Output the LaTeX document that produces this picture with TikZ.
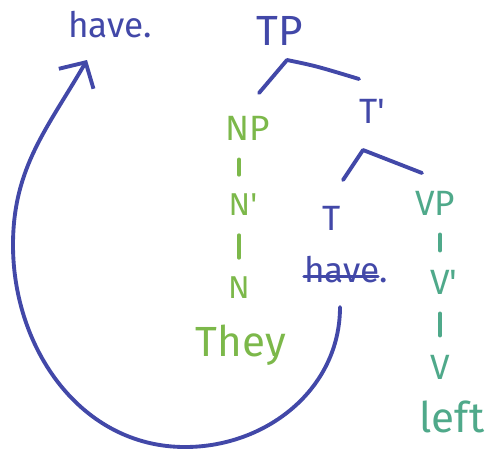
\documentclass[tikz,border=0pt]{standalone}
\usepackage{fontspec}
\setmainfont{Fira Sans}
\usetikzlibrary{arrows.meta}
\definecolor{penblue}{HTML}{4248A8}
\definecolor{pengreen}{HTML}{7CB84A}
\definecolor{penteal}{HTML}{4FA98A}

\begin{document}
\begin{tikzpicture}[x=0.02cm,y=0.02cm,line cap=round,line join=round,
    ink/.style={line width=2.2pt},
    lbl/.style={inner sep=0pt,font=\fontsize{20}{22}\selectfont},
    big/.style={inner sep=0pt,font=\fontsize{24}{26}\selectfont},
    small/.style={inner sep=0pt,font=\fontsize{18}{20}\selectfont},
    bar/.style={ink,shorten <=0.38cm,shorten >=0.38cm}]
  \useasboundingbox (0,0) rectangle (486,-451);
  % moved auxiliary
  \node[lbl,penblue] (have) at (110,-25) {have.};
  % tree, blue part
  \node[big,penblue] (tp) at (280,-31) {TP};
  \node[lbl,penblue] (tbar) at (372,-111) {T\textquotesingle};
  \node[lbl,penblue] (t) at (332,-218) {T};
  \node[lbl,penblue] (struck) at (346,-270) {have.};
  \draw[line width=1.6pt,penblue] ([yshift=0.13cm]struck.base west) -- ([xshift=-0.2cm,yshift=0.13cm]struck.base east);
  \coordinate (tpfork) at (287,-60);
  \coordinate (tpleft) at (259,-93);
  \coordinate (tpright) at (359,-79);
  \draw[ink,penblue] (tpleft) -- (tpfork) .. controls (316,-66) .. (tpright);
  \coordinate (tbfork) at (363,-150);
  \coordinate (tbleft) at (343,-180);
  \coordinate (tbright) at (422,-173);
  \draw[ink,penblue] (tbleft) -- (tbfork) -- (tbright);
  % subject, green
  \node[lbl,pengreen] (np) at (248,-128) {NP};
  \node[small,pengreen] (nbar) at (243,-205) {N\textquotesingle};
  \node[small,pengreen] (n) at (239,-288) {N};
  \node[big,pengreen] (they) at (241,-345) {They};
  \draw[bar,pengreen] (np.south -| n) -- (nbar.north -| n);
  \draw[bar,pengreen] (nbar.south -| n) -- (n.north);
  % predicate, teal
  \node[lbl,penteal] (vp) at (435,-203) {VP};
  \node[lbl,penteal] (vbar) at (444,-282) {V\textquotesingle};
  \node[lbl,penteal] (v) at (440,-367) {V};
  \node[big,penteal] (left) at (452,-417) {left};
  \draw[bar,penteal] (vp.south -| v) -- (vbar.north -| v);
  \draw[bar,penteal] (vbar.south -| v) -- (v.north);
  % movement arrow
  \coordinate (trace) at (340,-307);
  \coordinate (tip) at (87,-60);
  \draw[ink,penblue,-{Straight Barb[length=0.38cm,width=0.8cm]}] (trace)
    to[out=-90,in=0] (185,-447) to[out=180,in=-90] (13,-245) to[out=90,in=240] (tip);
\end{tikzpicture}
\end{document}
